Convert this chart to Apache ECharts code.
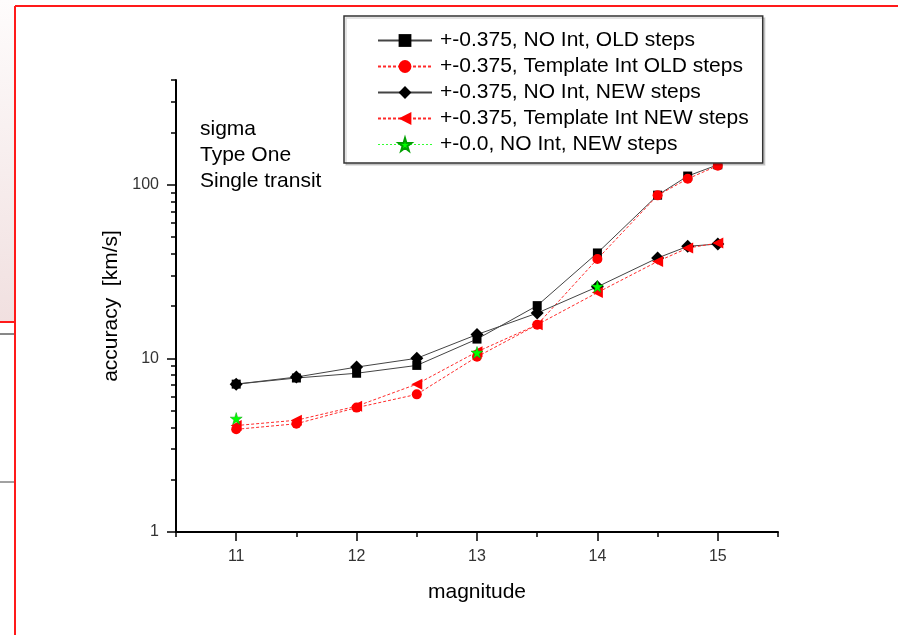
<!DOCTYPE html>
<html>
<head>
<meta charset="utf-8">
<title>accuracy vs magnitude</title>
<script src="https://cdn.jsdelivr.net/npm/echarts@6/dist/echarts.min.js"></script>
<style>
    html,body{margin:0;padding:0;background:#fff;}
    .chart{width:898px;height:635px;}
</style>
</head>
<body>
<div class="chart"></div>
<script>
// 数据
var magnitude = [11, 11.5, 12, 12.5, 13, 13.5, 14, 14.5, 14.75, 15];
var noIntOld = [7.1, 7.7, 8.2, 9.1, 12.9, 20.1, 40.4, 86.9, 112, 130];
var tplIntOld = [3.9, 4.2, 5.2, 6.2, 10.2, 15.6, 37.3, 86.7, 108, 128.5];
var noIntNew = [7.1, 7.8, 8.9, 10.0, 13.7, 18.2, 25.8, 37.8, 44.1, 45.5];
var tplIntNew = [4.1, 4.4, 5.3, 7.1, 10.9, 15.6, 23.9, 36.1, 43.1, 46.1];
var zeroMag = [11, 13, 14];
var zeroNoIntNew = [4.5, 10.8, 25.9];

var seriesNames = ['+-0.375, NO Int, OLD steps', '+-0.375, Template Int OLD steps',
    '+-0.375, NO Int, NEW steps', '+-0.375, Template Int NEW steps', '+-0.0, NO Int, NEW steps'];

// 刻度
var xMajor = [11, 12, 13, 14, 15];
var xMinor = [10.5, 11.5, 12.5, 13.5, 14.5, 15.5];
var yMajor = [1, 10, 100];
var yMinor = [2, 3, 4, 5, 6, 7, 8, 9, 20, 30, 40, 50, 60, 70, 80, 90, 200, 300, 400];

var font = 'Liberation Sans, Arial, sans-serif';
var triLeft = 'path://M0,5 L10,0 L10,10 Z';
var star = 'path://M50,0 L61,35 L98,35 L68,57 L79,91 L50,70 L21,91 L32,57 L2,35 L39,35 Z';

function pairs(xs, ys){
    var out = [];
    for(var i=0;i<xs.length;i++){
        out.push([xs[i], ys[i]]);
    }
    return out;
}

(function(){
    var el = document.getElementsByClassName('chart')[0];
    var myChart = echarts.init(el);

    var blackLine = {color: '#444', width: 1, type: 'solid'};
    var redLine = {color: '#ff2a2a', width: 1, type: [3, 2]};

    var option = {
        animation: false,
        backgroundColor: '#fff',
        grid: {left: 176, right: 120, top: 80, bottom: 103},
        legend: {
            orient: 'vertical',
            left: 344,
            top: 16,
            padding: [14, 14, 8, 33],
            itemWidth: 54,
            itemHeight: 16,
            itemGap: 5,
            selectedMode: false,
            backgroundColor: '#fff',
            borderColor: '#333',
            borderWidth: 1.5,
            borderRadius: 0,
            shadowColor: 'rgba(0,0,0,0.15)',
            shadowOffsetX: 2,
            shadowOffsetY: 2,
            textStyle: {fontFamily: font, fontSize: 21, color: '#000', lineHeight: 20, padding: [0, 0, 0, 3]},
            data: [
                seriesNames[0], seriesNames[1], seriesNames[2], seriesNames[3],
                {name: seriesNames[4], lineStyle: {color: '#33ff33', width: 1, type: [2, 2], opacity: 1}}
            ]
        },
        // 文字说明 + 页面边框
        graphic: [
            {type: 'rect', left: 0, top: 0, shape: {width: 14, height: 321},
                style: {fill: new echarts.graphic.LinearGradient(0, 0, 0, 1, [
                    {offset: 0, color: '#fefcfc'}, {offset: 1, color: '#f1e0e0'}])}, silent: true},
            {type: 'line', shape: {x1: 15, y1: 6, x2: 898, y2: 6}, style: {stroke: '#ff1a1a', lineWidth: 2}, silent: true},
            {type: 'line', shape: {x1: 15, y1: 6, x2: 15, y2: 635}, style: {stroke: '#ff1a1a', lineWidth: 2}, silent: true},
            {type: 'line', shape: {x1: 0, y1: 322, x2: 15, y2: 322}, style: {stroke: '#ff1a1a', lineWidth: 2}, silent: true},
            {type: 'line', shape: {x1: 0, y1: 334, x2: 14, y2: 334}, style: {stroke: '#111', lineWidth: 1}, silent: true},
            {type: 'line', shape: {x1: 0, y1: 482, x2: 14, y2: 482}, style: {stroke: '#444', lineWidth: 1}, silent: true},
            {type: 'text', left: 200, top: 116, silent: true,
                style: {text: 'sigma\nType One\nSingle transit', fontFamily: font, fontSize: 21,
                    lineHeight: 26, fill: '#000'}}
        ],
        xAxis: [{
            type: 'value',
            min: 10.5,
            max: 15.5,
            name: 'magnitude',
            nameLocation: 'middle',
            nameGap: 50,
            nameTextStyle: {fontFamily: font, fontSize: 21, color: '#000'},
            axisLine: {onZero: false, lineStyle: {color: '#000', width: 2}},
            axisTick: {customValues: xMajor, length: 9, lineStyle: {color: '#000', width: 1.5}},
            axisLabel: {customValues: xMajor, fontFamily: font, fontSize: 16, color: '#333', margin: 17},
            splitLine: {show: false}
        }, {
            type: 'value',
            min: 10.5,
            max: 15.5,
            position: 'bottom',
            axisLine: {show: false},
            axisTick: {customValues: xMinor, length: 5, lineStyle: {color: '#000', width: 1.5}},
            axisLabel: {show: false},
            splitLine: {show: false}
        }],
        yAxis: [{
            type: 'log',
            logBase: 10,
            min: 1,
            max: 400,
            name: 'accuracy  [km/s]',
            nameLocation: 'middle',
            nameRotate: 90,
            nameGap: 52,
            nameTextStyle: {fontFamily: font, fontSize: 21, color: '#000'},
            axisLine: {show: true, lineStyle: {color: '#000', width: 2}},
            axisTick: {customValues: yMajor, length: 9, lineStyle: {color: '#000', width: 1.5}},
            axisLabel: {customValues: yMajor, fontFamily: font, fontSize: 16, color: '#333', margin: 17},
            splitLine: {show: false}
        }, {
            type: 'log',
            logBase: 10,
            min: 1,
            max: 400,
            position: 'left',
            axisLine: {show: false},
            axisTick: {customValues: yMinor, length: 5, lineStyle: {color: '#000', width: 1.5}},
            axisLabel: {show: false},
            splitLine: {show: false}
        }],
        series: [
            {
                name: seriesNames[0], type: 'line', data: pairs(magnitude, noIntOld),
                symbol: 'rect', symbolSize: 9, color: '#000',
                lineStyle: blackLine, itemStyle: {color: '#000'}
            },
            {
                name: seriesNames[1], type: 'line', data: pairs(magnitude, tplIntOld),
                symbol: 'circle', symbolSize: 10, color: '#ff0000',
                lineStyle: redLine, itemStyle: {color: '#ff0000'}
            },
            {
                name: seriesNames[2], type: 'line', data: pairs(magnitude, noIntNew),
                symbol: 'diamond', symbolSize: 13, color: '#000',
                lineStyle: blackLine, itemStyle: {color: '#000'}
            },
            {
                name: seriesNames[3], type: 'line', data: pairs(magnitude, tplIntNew),
                symbol: triLeft, symbolSize: 11, color: '#ff0000',
                lineStyle: redLine, itemStyle: {color: '#ff0000'}
            },
            {
                name: seriesNames[4], type: 'line', data: pairs(zeroMag, zeroNoIntNew),
                symbol: star, symbolSize: 12, color: '#00ff00',
                // 线被红线挡住了，只保留星号
                lineStyle: {color: '#33ff33', width: 1, type: [2, 2], opacity: 0},
                itemStyle: {color: '#00ff00', borderColor: '#00a000', borderWidth: 0.5}
            }
        ]
    };
    myChart.setOption(option);
})();
</script>
</body>
</html>
